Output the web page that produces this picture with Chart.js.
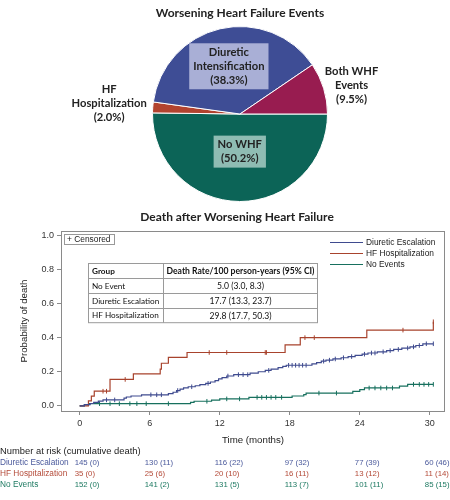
<!DOCTYPE html>
<html>
<head>
<meta charset="utf-8">
<script src="https://cdn.jsdelivr.net/npm/chart.js@4"></script>
<style>
  html, body { margin: 0; padding: 0; background: #fff; }
  #wrap { position: relative; width: 450px; height: 500px; overflow: hidden; }
  #pie { position: absolute; left: 0; top: 0; }
  #km { position: absolute; left: 0; top: 205px; }
</style>
</head>
<body>
<div id="wrap">
  <canvas id="pie" width="450" height="205"></canvas>
  <canvas id="km" width="450" height="295"></canvas>
</div>
<script>
// pie: worsening heart failure events (%)
const pieLabels = ['No WHF', 'HF\nHospitalization', 'Diuretic\nIntensification', 'Both WHF\nEvents']
const pieValues = [50.2, 2.0, 38.3, 9.5]
const pieColors = ['#0c6457', '#b2432f', '#3e4d95', '#981c50']

// Kaplan-Meier curves, time in months, probability of death
const deTime = [0.4, 0.9, 1.2, 1.6, 2.0, 3.8, 4.0, 4.4, 5.3, 7.6, 8.0, 8.3, 8.6, 8.9, 9.3, 9.9, 10.3, 10.8, 11.2, 11.6, 11.9, 12.2, 12.6, 13.2, 14.6, 15.3, 15.9, 16.4, 17.0, 17.4, 17.7, 19.9, 20.3, 20.7, 21.1, 21.7, 22.4, 23.0, 23.6, 24.2, 24.7, 25.5, 26.3, 26.9, 27.6, 28.3, 28.8, 29.4]
const deProb = [0.007, 0.014, 0.021, 0.028, 0.035, 0.045, 0.052, 0.058, 0.065, 0.072, 0.080, 0.090, 0.098, 0.106, 0.112, 0.118, 0.125, 0.132, 0.140, 0.148, 0.158, 0.166, 0.175, 0.183, 0.192, 0.200, 0.208, 0.216, 0.224, 0.232, 0.238, 0.246, 0.254, 0.262, 0.268, 0.275, 0.282, 0.289, 0.296, 0.303, 0.310, 0.317, 0.324, 0.331, 0.339, 0.346, 0.354, 0.364]
const deCens = [2.3, 3.0, 6.1, 6.6, 7.0, 8.4, 9.6, 11.0, 12.7, 13.6, 14.0, 14.4, 16.2, 17.9, 18.2, 18.5, 18.8, 19.1, 19.4, 20.9, 21.4, 21.9, 22.6, 23.3, 24.4, 25.0, 25.3, 26.0, 26.6, 27.3, 28.1, 28.6, 29.1, 29.7, 30.3]

const hfTime = [0.75, 1.0, 1.25, 2.6, 4.6, 6.9, 7.0, 7.6, 9.2, 17.6, 18.9, 24.6, 30.3]
const hfProb = [0.029, 0.057, 0.086, 0.155, 0.188, 0.216, 0.25, 0.284, 0.313, 0.357, 0.40, 0.444, 0.493]
const hfCens = [2.0, 2.3, 3.9, 11.1, 12.6, 15.9, 16.0, 19.3, 20.1, 27.7, 30.3]

const neTime = [0.4, 0.8, 9.5, 9.8, 11.3, 12.0, 14.5, 18.2, 19.2, 19.4, 23.4, 24.0, 24.4, 27.4, 28.1]
const neProb = [0.0066, 0.013, 0.020, 0.027, 0.034, 0.041, 0.050, 0.058, 0.066, 0.075, 0.085, 0.095, 0.105, 0.116, 0.126]
const neCens = [1.7, 2.6, 3.4, 4.3, 4.9, 5.7, 7.6, 10.9, 12.6, 13.7, 15.2, 15.6, 16.0, 16.4, 16.8, 17.3, 20.5, 22.0, 24.8, 25.3, 25.8, 26.3, 26.8, 28.6, 29.1, 29.5, 29.9, 30.3]

const groupNames = ['Diuretic Escalation', 'HF Hospitalization', 'No Events']
const groupColors = ['#3f4b8f', '#a8432d', '#17705e']
const riskTextColors = ['#4b5a9c', '#b44a38', '#1e7a62']

const monthTicks = [0, 6, 12, 18, 24, 30]
const probTicks = [0, 0.2, 0.4, 0.6, 0.8, 1.0]

// number at risk (cumulative death)
const riskDE = ['145 (0)', '130 (11)', '116 (22)', '97 (32)', '77 (39)', '60 (46)']
const riskHF = ['35 (0)', '25 (6)', '20 (10)', '16 (11)', '13 (12)', '11 (14)']
const riskNE = ['152 (0)', '141 (2)', '131 (5)', '113 (7)', '101 (11)', '85 (15)']

// death rate table
const tableHead = ['Group', 'Death Rate/100 person-years (95% CI)']
const tableGroups = ['No Event', 'Diuretic Escalation', 'HF Hospitalization']
const tableRates = ['5.0 (3.0, 8.3)', '17.7 (13.3, 23.7)', '29.8 (17.7, 50.3)']

const pieLabelRadius = [0.43, 1.5, 0.56, 1.31]
const pieLabelShift = [[0, 0], [0, -1], [0, 0], [2, 5]]
const pieLabelBox = ['#8fbcb3', null, '#a9afd6', null]

const pieLabelPlugin = {
  id: 'pieLabels',
  afterDatasetsDraw(chart) {
    const ctx = chart.ctx
    const arcs = chart.getDatasetMeta(0).data
    ctx.save()
    ctx.font = 'bold 11.2px Lato'
    ctx.textAlign = 'center'
    ctx.textBaseline = 'middle'
    arcs.forEach((arc, i) => {
      const p = arc.getProps(['x', 'y', 'startAngle', 'endAngle', 'outerRadius'], true)
      const mid = (p.startAngle + p.endAngle) / 2
      const r = p.outerRadius * pieLabelRadius[i]
      const cx = p.x + Math.cos(mid) * r + pieLabelShift[i][0]
      const cy = p.y + Math.sin(mid) * r + pieLabelShift[i][1]
      const lines = pieLabels[i].split('\n').concat('(' + pieValues[i].toFixed(1) + '%)')
      const lh = 14
      const top = cy - lh * (lines.length - 1) / 2
      if (pieLabelBox[i]) {
        const w = Math.max(...lines.map(l => ctx.measureText(l).width)) + 8
        const h = lh * lines.length + 4
        ctx.fillStyle = pieLabelBox[i]
        ctx.fillRect(cx - w / 2, cy - h / 2, w, h)
      }
      ctx.fillStyle = '#222'
      lines.forEach((l, k) => ctx.fillText(l, cx, top + k * lh))
    })
    ctx.restore()
  }
}

new Chart(document.getElementById('pie'), {
  type: 'pie',
  data: {
    labels: pieLabels,
    datasets: [{
      data: pieValues,
      backgroundColor: pieColors,
      borderColor: '#ffffff',
      borderWidth: 1,
      hoverOffset: 0
    }]
  },
  options: {
    responsive: false,
    animation: false,
    rotation: 90,
    layout: { padding: { left: 30, right: 0, top: 0, bottom: 3 } },
    plugins: {
      legend: { display: false },
      tooltip: { enabled: false },
      title: {
        display: true,
        text: 'Worsening Heart Failure Events',
        color: '#222',
        font: { family: 'Lato', size: 12, weight: 'bold' },
        padding: { top: 6, bottom: 5.6 }
      }
    }
  },
  plugins: [pieLabelPlugin]
})

function buildCurve(times, probs, cens) {
  const pts = [{ x: 0, y: 0, c: false }]
  times.forEach((t, i) => pts.push({ x: t, y: probs[i], c: false }))
  cens.forEach(t => {
    let y = 0
    times.forEach((tt, i) => { if (tt <= t) y = probs[i] })
    pts.push({ x: t, y: y, c: true })
  })
  pts.sort((a, b) => a.x - b.x)
  return pts
}

const curves = [
  buildCurve(deTime, deProb, deCens),
  buildCurve(hfTime, hfProb, hfCens),
  buildCurve(neTime, neProb, neCens)
]

const kmExtras = {
  id: 'kmExtras',
  afterDraw(chart) {
    const ctx = chart.ctx
    const ca = chart.chartArea
    const xs = chart.scales.x
    ctx.save()

    // frame
    ctx.strokeStyle = '#8a8a8a'
    ctx.lineWidth = 1
    ctx.strokeRect(Math.round(ca.left) + 0.5, Math.round(ca.top) + 0.5, Math.round(ca.right - ca.left) - 1, Math.round(ca.bottom - ca.top))

    // title
    ctx.fillStyle = '#222'
    ctx.font = 'bold 12px Lato'
    ctx.textAlign = 'center'
    ctx.textBaseline = 'middle'
    ctx.fillText('Death after Worsening Heart Failure', 237, 12)

    // censored box
    ctx.font = '8.4px "Liberation Sans"'
    ctx.textAlign = 'left'
    ctx.strokeStyle = '#999'
    ctx.strokeRect(ca.left + 3.5, ca.top + 3.5, 50, 10)
    ctx.fillStyle = '#222'
    ctx.fillText('+ Censored', ca.left + 6, ca.top + 8.8)

    // legend
    chart.data.datasets.forEach((ds, i) => {
      const y = Math.round(ca.top + 10.7 + i * 11.3) + 0.5
      ctx.strokeStyle = ds.borderColor
      ctx.lineWidth = 1
      ctx.beginPath()
      ctx.moveTo(ca.right - 115, y)
      ctx.lineTo(ca.right - 82, y)
      ctx.stroke()
      ctx.fillStyle = '#222'
      ctx.fillText(ds.label, ca.right - 79, y)
    })

    // death rate table
    const tx = Math.round(ca.left + 27) + 0.5
    const ty = Math.round(ca.top + 32) + 0.5
    const tw = 229, rh = 14.8, c1 = 75
    ctx.fillStyle = '#fff'
    ctx.fillRect(tx, ty, tw, rh * 4)
    ctx.strokeStyle = '#9a9a9a'
    ctx.strokeRect(tx, ty, tw, rh * 4)
    ctx.beginPath()
    for (let r = 1; r < 4; r++) {
      ctx.moveTo(tx, Math.round(ty + r * rh) + 0.5)
      ctx.lineTo(tx + tw, Math.round(ty + r * rh) + 0.5)
    }
    ctx.moveTo(tx + c1, ty)
    ctx.lineTo(tx + c1, ty + rh * 4)
    ctx.stroke()
    ctx.fillStyle = '#111'
    const rows = [tableHead].concat(tableGroups.map((g, i) => [g, tableRates[i]]))
    rows.forEach((row, r) => {
      const y = ty + r * rh + rh / 2 + 0.5
      ctx.textAlign = 'left'
      ctx.font = (r === 0 ? 'bold ' : '') + '8.2px Lato'
      ctx.fillText(row[0], tx + 3.5, y)
      ctx.textAlign = 'center'
      ctx.font = (r === 0 ? 'bold ' : '') + '8.6px Lato'
      ctx.fillText(row[1], tx + c1 + (tw - c1) / 2, y)
    })

    // number at risk
    ctx.textAlign = 'left'
    ctx.fillStyle = '#222'
    ctx.font = '9.4px "Liberation Sans"'
    ctx.fillText('Number at risk (cumulative death)', 0, 246)
    const risk = [riskDE, riskHF, riskNE]
    risk.forEach((vals, i) => {
      const y = 257.5 + i * 11.1
      ctx.fillStyle = riskTextColors[i]
      ctx.font = '8.3px "Liberation Sans"'
      ctx.fillText(groupNames[i], 0, y)
      ctx.font = '7.8px "Liberation Sans"'
      vals.forEach((v, k) => ctx.fillText(v, xs.getPixelForValue(monthTicks[k]) - 5, y))
    })
    ctx.restore()
  }
}

const tickFont = { family: 'Liberation Sans', size: 9 }
const titleFont = { family: 'Liberation Sans', size: 9.7 }

new Chart(document.getElementById('km'), {
  type: 'line',
  data: {
    datasets: curves.map((pts, i) => ({
      label: groupNames[i],
      data: pts,
      stepped: true,
      borderColor: groupColors[i],
      borderWidth: 1.2,
      fill: false,
      pointStyle: 'line',
      rotation: 90,
      pointRadius: c => (c.raw && c.raw.c ? 2.3 : 0),
      pointBorderWidth: 1,
      pointBorderColor: groupColors[i],
      pointHoverRadius: 0
    }))
  },
  options: {
    responsive: false,
    animation: false,
    layout: { padding: { top: 26, right: 5, left: 0, bottom: 0 } },
    plugins: {
      legend: { display: false },
      tooltip: { enabled: false },
      title: { display: false }
    },
    scales: {
      x: {
        type: 'linear',
        min: -1.6,
        max: 31.3,
        afterBuildTicks: s => { s.ticks = monthTicks.map(v => ({ value: v })) },
        afterFit: s => { s.height = 89 },
        border: { display: false },
        grid: { drawOnChartArea: false, drawTicks: true, tickLength: 4, color: '#8a8a8a' },
        ticks: { font: tickFont, color: '#333', padding: 3, maxRotation: 0 },
        title: { display: true, text: 'Time (months)', font: titleFont, color: '#222', padding: { top: 0, bottom: 54 } }
      },
      y: {
        min: -0.03,
        max: 1.025,
        afterBuildTicks: s => { s.ticks = probTicks.map(v => ({ value: v })) },
        afterFit: s => { s.width = 61 },
        border: { display: false },
        grid: { drawOnChartArea: false, drawTicks: true, tickLength: 4, color: '#8a8a8a' },
        ticks: { font: tickFont, color: '#333', padding: 3, callback: v => v.toFixed(1) },
        title: { display: true, text: 'Probability of death', font: titleFont, color: '#222', padding: { top: 19, bottom: 0 } }
      }
    }
  },
  plugins: [kmExtras]
})
</script>
</body>
</html>
